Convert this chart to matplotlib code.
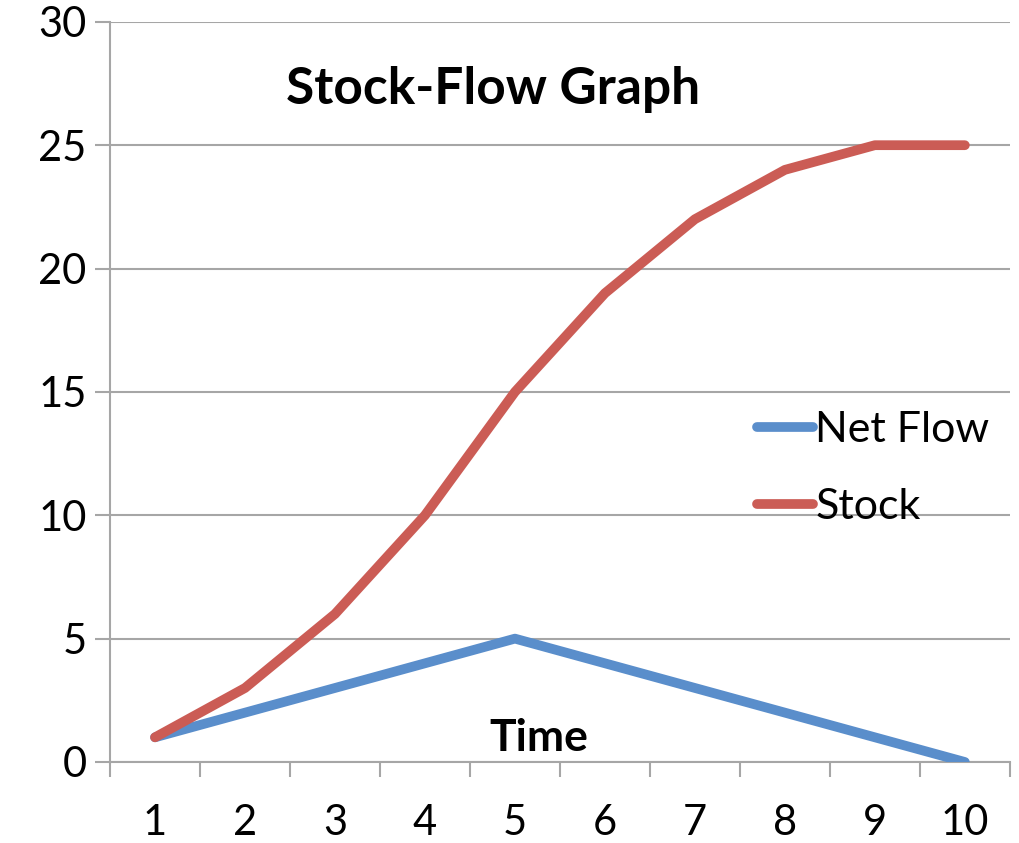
import matplotlib
matplotlib.use("Agg")
import matplotlib.pyplot as plt
import numpy as np

plt.rcParams["font.family"] = ["Lato", "DejaVu Sans"]

time = [1, 2, 3, 4, 5, 6, 7, 8, 9, 10]
net_flow = [1, 2, 3, 4, 5, 4, 3, 2, 1, 0]
stock = [1, 3, 6, 10, 15, 19, 22, 24, 25, 25]
y_ticks = [0, 5, 10, 15, 20, 25, 30]

blue = "#5a8ecb"
red = "#cb5c55"
grey = "#a6a6a6"

fig = plt.figure(figsize=(10.19, 8.43), dpi=100)
ax = fig.add_axes([0.108, 0.0961, 0.883, 0.878])

x = np.arange(len(time))
ax.plot(x, net_flow, color=blue, lw=7, solid_capstyle="round", label="Net Flow", zorder=3)
ax.plot(x, stock, color=red, lw=7, solid_capstyle="round", label="Stock", zorder=3)

ax.set_xlim(-0.5, len(time) - 0.5)
ax.set_ylim(0, 30)
ax.set_yticks(y_ticks)
ax.yaxis.grid(True, color=grey, lw=1.5)
ax.set_axisbelow(True)

# category labels centered, tick marks on the boundaries
ax.set_xticks(x)
ax.set_xticklabels([str(t) for t in time])
ax.set_xticks(np.arange(len(time) + 1) - 0.5, minor=True)
ax.tick_params(axis="x", which="major", length=0, pad=30, labelsize=30)
ax.tick_params(axis="x", which="minor", length=11, width=1.5, color=grey)
ax.tick_params(axis="y", length=11, width=1.5, color=grey, labelsize=30, pad=6)

for s in ["top", "right"]:
    ax.spines[s].set_visible(False)
for s in ["left", "bottom"]:
    ax.spines[s].set_color(grey)
    ax.spines[s].set_linewidth(1.5)

ax.text(0.4256, 0.908, "Stock-Flow Graph", transform=ax.transAxes, ha="center",
        va="center", fontsize=37, fontweight="bold")
ax.text(0.476, 0.032, "Time", transform=ax.transAxes, ha="center",
        va="center", fontsize=32, fontweight="bold")

ax.legend(loc="upper left", bbox_to_anchor=(0.7, 0.497), frameon=False,
          fontsize=31, handlelength=1.3, handletextpad=0.05, labelspacing=0.9,
          borderaxespad=0)

fig.savefig("out.png", dpi=100)
